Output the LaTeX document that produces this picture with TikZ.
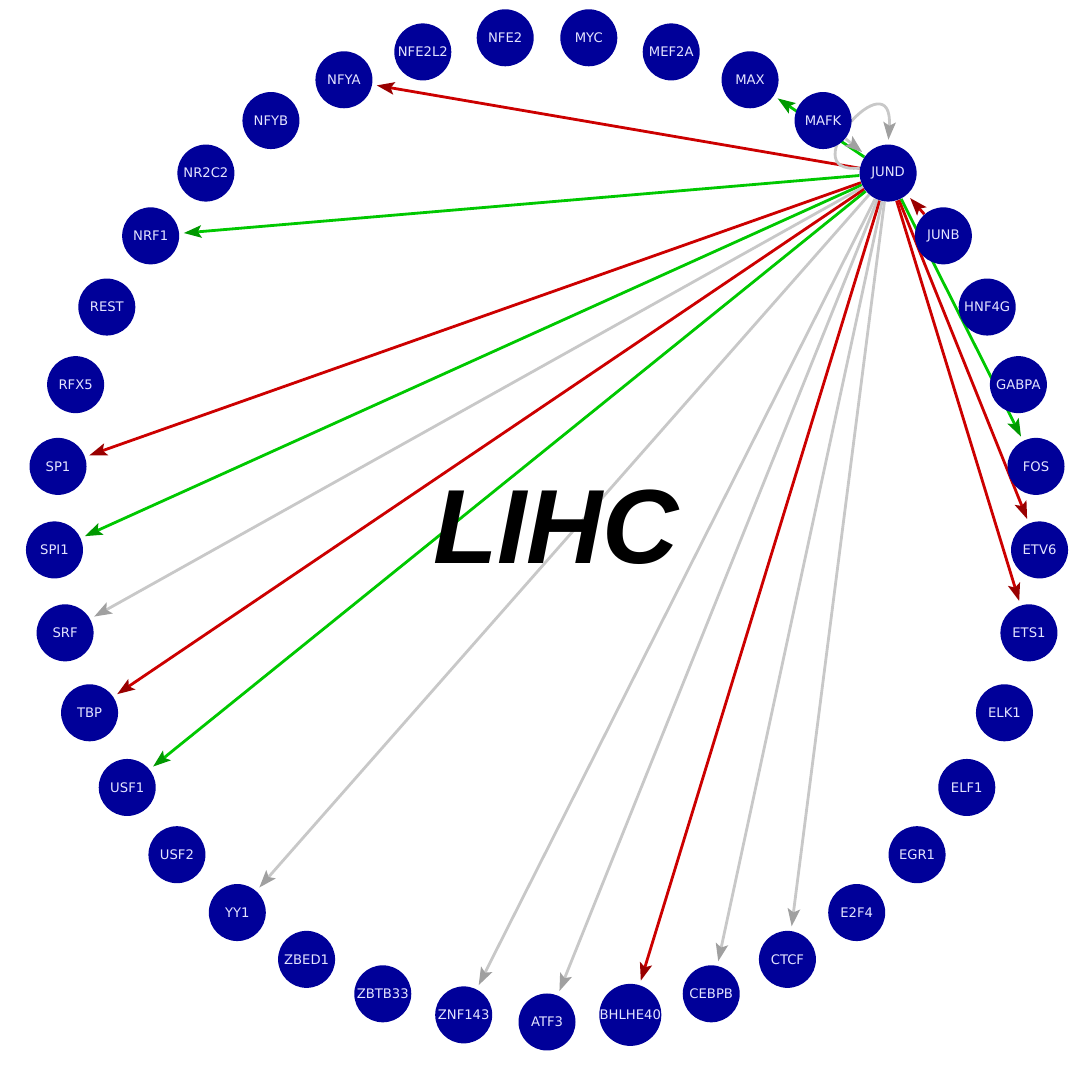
\documentclass[tikz,border=0pt]{standalone}
\usepackage{fontspec}
\newfontfamily\labelfont{DejaVu Sans}
\newfontfamily\titlefont{Liberation Sans}
\usetikzlibrary{arrows.meta,backgrounds}
\definecolor{TFNode}{HTML}{000099}
\definecolor{TFText}{HTML}{E4E4FF}
\definecolor{EdgeRed}{HTML}{CC0000}
\definecolor{EdgeRedTip}{HTML}{990000}
\definecolor{EdgeGreen}{HTML}{00C800}
\definecolor{EdgeGreenTip}{HTML}{009900}
\definecolor{EdgeGray}{HTML}{C8C8C8}
\definecolor{EdgeGrayTip}{HTML}{A0A0A0}

\begin{document}
\begin{tikzpicture}[
    tf/.style={
      circle, fill=TFNode, minimum size=1.14cm, inner sep=0pt,
      text=TFText, font=\labelfont\fontsize{7.5}{8}\selectfont
    },
    redarr/.style={-{Stealth[length=10pt, width=7pt, inset=2pt, color=EdgeRedTip]},
      line width=1.6pt, color=EdgeRed, shorten >=2.5pt},
    greenarr/.style={-{Stealth[length=10pt, width=7pt, inset=2pt, color=EdgeGreenTip]},
      line width=1.6pt, color=EdgeGreen, shorten >=2.5pt},
    grayarr/.style={-{Stealth[length=10pt, width=7pt, inset=2pt, color=EdgeGrayTip]},
      line width=1.6pt, color=EdgeGray, shorten >=2.5pt},
    title/.style={font=\titlefont\fontsize{60}{60}\selectfont\bfseries\itshape, text=black}
  ]
  \useasboundingbox (0,0) rectangle (21.54,21.34);

  % Factors on the ring, alphabetical, starting at the bottom
  \begin{scope}[shift={(10.94,10.76)}]
    \foreach \name [count=\i from 0] in {ATF3, BHLHE40, CEBPB, CTCF, E2F4, EGR1,
        ELF1, ELK1, ETS1, ETV6, FOS, GABPA, HNF4G, JUNB, JUND, MAFK, MAX, MEF2A,
        MYC, NFE2, NFE2L2, NFYA, NFYB, NR2C2, NRF1, REST, RFX5, SP1, SPI1, SRF,
        TBP, USF1, USF2, YY1, ZBED1, ZBTB33, ZNF143}
      \node[tf] (\name) at ({-90+\i*360/37}:9.86) {\name};
  \end{scope}

  % Cancer type
  \node[title] (lihc) at (11.12,10.79) {LIHC};

  % Edges behind the nodes
  \begin{scope}[on background layer]
    \draw[redarr] (JUND) -- (NFYA);
    \draw[greenarr] (JUND) -- (NRF1);
    \draw[redarr] (JUND) -- (SP1);
    \draw[greenarr] (JUND) -- (SPI1);
    \draw[grayarr] (JUND) -- (SRF);
    \draw[redarr] (JUND) -- (TBP);
    \draw[greenarr] (JUND) -- (USF1);
    \draw[grayarr] (JUND) -- (YY1);
    \draw[grayarr] (JUND) -- (ZNF143);
    \draw[grayarr] (JUND) -- (ATF3);
    \draw[redarr] (JUND) -- (BHLHE40);
    \draw[grayarr] (JUND) -- (CEBPB);
    \draw[grayarr] (JUND) -- (CTCF);
    \draw[redarr] (JUND) -- (ETS1);
    \draw[redarr] (JUND) -- (ETV6);
    \draw[greenarr] (JUND) -- (FOS);
    \draw[greenarr] (JUND) -- (MAX);
    \draw[redarr] (JUNB) -- (JUND);
    \draw[grayarr] (MAFK) -- (JUND);
    % self loop
    \draw[grayarr] (JUND.170) .. controls +(-1.42,-0.14) and +(0.12,1.78) .. (JUND.north);
  \end{scope}

\end{tikzpicture}
\end{document}
